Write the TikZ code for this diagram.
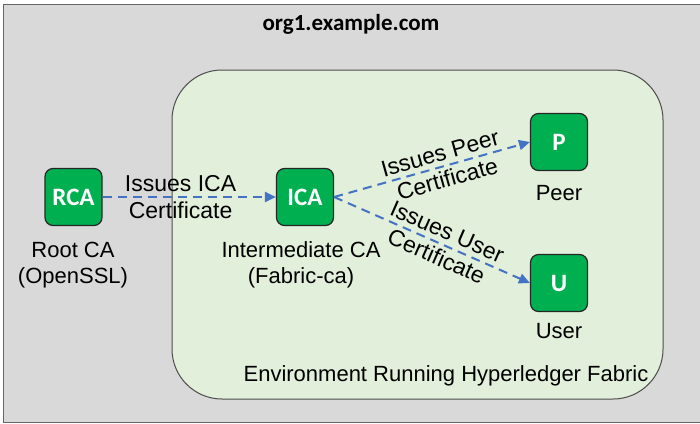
\documentclass[tikz,border=0pt]{standalone}
\usepackage{fontspec}
\setmainfont{Liberation Sans}
\newfontfamily\calibri{Carlito}
\usetikzlibrary{arrows.meta}
\definecolor{bggray}{HTML}{D9D9D9}
\definecolor{envgreen}{HTML}{E2EFDA}
\definecolor{boxgreen}{HTML}{00B050}
\definecolor{arrowblue}{HTML}{4472C4}
\begin{document}
\begin{tikzpicture}[x=1pt,y=-1pt,
  cabox/.style={draw=black!85, line width=1.2pt, fill=boxgreen, rounded corners=8pt,
    minimum width=57pt, minimum height=57pt, inner sep=0pt, text=white,
    font=\calibri\bfseries\fontsize{25}{29}\selectfont},
  lbl/.style={align=center, inner sep=0pt, font=\fontsize{22}{26.5}\selectfont},
  issue/.style={draw=arrowblue, line width=2pt, dash pattern=on 9pt off 6pt,
    -{Triangle[length=11pt,width=10pt]}},
  arrlbl/.style={sloped, align=center, inner sep=0pt, font=\fontsize{23}{27}\selectfont}
]
\useasboundingbox (0,0) rectangle (700,423);
\draw[fill=bggray, draw=black!60, line width=1pt] (3,4) rectangle (701,422);
\node[font=\calibri\bfseries\fontsize{23}{27}\selectfont] (title) at (351,24) {org1.example.com};
\draw[fill=envgreen, draw=black!70, line width=1pt, rounded corners=50pt] (172,70) rectangle (663,399);
\node[lbl] (envlbl) at (446,376) {Environment Running Hyperledger Fabric};

\node[cabox] (rca) at (73.5,197) {RCA};
\node[cabox] (ica) at (305,197) {ICA};
\node[cabox] (p) at (559,142) {P};
\node[cabox] (u) at (559,283) {U};

\node[lbl] (rcalbl) at (73,265) {Root CA\\(OpenSSL)};
\node[lbl] (icalbl) at (301,265) {Intermediate CA\\(Fabric-ca)};
\node[lbl] (plbl) at (559,193) {Peer};
\node[lbl] (ulbl) at (559,331) {User};

\draw[issue] (rca.east) -- node[arrlbl, pos=0.45] {Issues ICA\\Certificate} (ica.west);
\draw[issue] (ica.east) -- node[arrlbl, pos=0.56] {Issues Peer\\Certificate} (p.west);
\draw[issue] (ica.east) -- node[arrlbl, pos=0.55] {Issues User\\Certificate} (u.west);
\end{tikzpicture}
\end{document}
